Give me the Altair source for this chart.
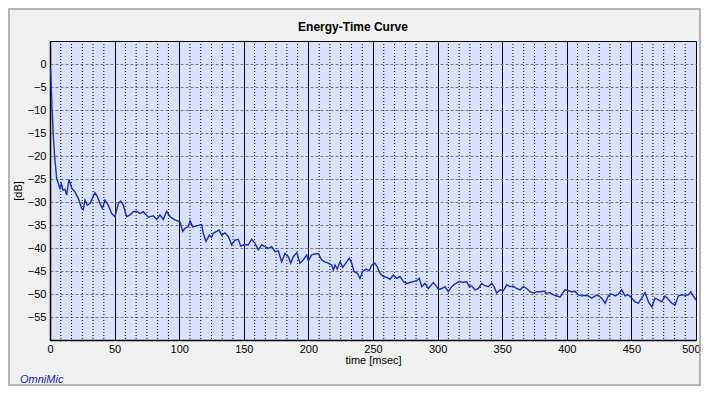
import altair as alt
import pandas as pd

# ---- data ----
time_ms = [0.0, 0.5, 1.5, 2.6, 3.6, 5.2, 7.7, 8.8, 10.0, 11.6, 12.9, 14.7, 16.8, 19.3, 21.9,
           24.5, 25.8, 27.1, 28.9, 31.0, 34.8, 36.6, 38.7, 40.5, 42.6, 45.1, 47.8, 50.3,
           52.9, 54.7, 56.8, 59.3, 61.9, 64.5, 67.1, 69.7, 72.2, 76.1, 80.0, 82.6, 85.1,
           87.7, 90.3,
           92.9, 96.7, 100.6, 102.7, 104.5, 107.0, 108.4, 110.4, 113.5, 117.4, 118.6,
           120.7, 123.3, 125.0, 126.4, 129.0, 130.8, 132.9, 135.4, 138.0, 140.6, 143.2,
           145.7, 147.6, 150.2, 153.5, 156.1, 158.7, 161.2, 163.9, 166.4, 169.0, 171.6,
           174.2, 176.7, 179.3, 181.9, 184.5, 186.3, 188.3, 191.0,
           193.5, 196.0, 198.7, 200.0, 202.5, 205.1, 207.7, 210.3, 212.8, 215.4, 218.0,
           219.3, 220.6, 222.3, 224.5, 226.6, 229.6, 231.7, 233.5, 235.3, 237.9, 239.9,
           242.0, 244.6, 247.2, 249.0, 251.5, 253.3, 255.4, 258.0, 260.6, 263.2, 265.7,
           268.3, 270.9, 273.5, 276.1, 278.6, 281.2, 283.8, 285.8, 287.7, 290.2, 292.8,
           296.7, 299.3, 300.6, 303.2, 305.7, 308.3, 310.9, 313.5, 316.8, 319.9, 322.5,
           324.5, 326.3, 329.0, 331.6, 334.1, 336.7, 339.3, 341.9, 343.7, 345.7, 348.3,
           350.9, 353.5, 356.1, 358.6, 361.2, 363.8, 366.4, 369.0, 371.5, 374.1, 376.7,
           379.3, 381.9, 384.5, 387.1, 389.6, 392.2, 394.8,
           398.6, 401.2, 403.8, 406.4, 408.9, 411.5, 414.1, 416.7, 419.3, 421.9, 424.5,
           427.0, 429.6, 432.2, 434.8, 437.4, 440.0, 442.5, 445.1, 447.7, 450.3, 452.8,
           455.4, 458.0, 460.6, 463.2, 465.8, 468.3, 470.9, 473.5, 476.1, 478.7, 481.2,
           483.8, 486.4, 489.0, 491.6, 494.1, 495.9, 497.8, 500.0]

level_db = [-1.0, -1.2, -9.3, -15.8, -20.1, -24.9, -27.0, -26.0, -27.4, -27.2, -28.5, -25.1,
            -27.0, -27.8, -29.2, -31.4, -31.7, -29.6, -30.7, -30.3, -28.0, -28.8, -30.3,
            -31.4, -29.6, -30.7, -32.5, -33.2, -30.3, -29.8, -30.7, -33.2, -32.8, -32.1,
            -32.0, -32.5, -32.1, -33.3, -33.0, -33.8, -32.8, -33.8, -32.0,
            -33.2, -33.9, -34.3, -36.4, -35.7, -35.4, -34.1, -35.4, -35.2, -34.9, -36.8,
            -38.6, -37.2, -37.7, -36.8, -36.4, -36.1, -37.2, -36.7, -37.5, -39.3, -38.3,
            -38.1, -39.6, -39.3, -39.3, -38.1, -39.0, -40.4, -39.3, -39.7, -40.1, -39.7,
            -40.8, -40.6, -43.0, -41.2, -41.9, -43.3, -41.9, -41.0,
            -43.3, -42.6, -41.5, -42.8, -41.5, -41.3, -41.2, -42.6, -43.0, -43.3, -43.7,
            -44.8, -43.7, -44.6, -43.0, -44.2, -43.0, -42.2, -43.3, -45.1, -45.5, -46.6,
            -45.1, -44.6, -44.9, -43.7, -43.3, -44.1, -45.5, -46.2, -46.4, -46.8, -45.9,
            -46.6, -46.2, -47.3, -47.7, -47.5, -47.3, -47.1, -46.6, -48.4, -47.7, -48.8,
            -47.5, -48.4, -49.0, -48.8, -48.4, -49.5, -48.4, -47.8, -47.3, -47.5, -47.3,
            -48.4, -48.2, -49.1, -48.8, -47.7, -48.2, -48.4, -47.7, -48.4, -49.8, -49.1,
            -49.3, -48.0, -48.4, -48.3, -48.8, -49.1, -48.4, -48.8, -49.5, -49.8, -49.5,
            -49.5, -49.4, -49.8, -49.7, -50.2, -50.4, -50.7,
            -49.1, -49.3, -49.5, -49.4, -50.2, -50.4, -50.3, -50.4, -50.9, -50.4, -50.3,
            -50.9, -52.0, -50.4, -50.0, -50.4, -50.0, -49.1, -50.4, -50.2, -50.9, -51.7,
            -52.0, -50.9, -49.7, -51.7, -52.8, -50.9, -51.3, -51.7, -50.4, -51.2, -52.0,
            -52.4, -50.4, -50.2, -50.3, -50.2, -49.5, -50.4, -51.3]

x_ticks = [0, 50, 100, 150, 200, 250, 300, 350, 400, 450, 500]
y_ticks = [0, -5, -10, -15, -20, -25, -30, -35, -40, -45, -50, -55]
x_domain = [0, 500]
y_domain = [-60, 5]
minor_per_major = 6

title_text = "Energy-Time Curve"
x_title = "time [msec]"
y_title = "[dB]"
brand_text = "OmniMic"

FONT = "Liberation Sans"
W, H = 646, 299
PAD = {"left": 42, "top": 33, "right": 5, "bottom": 46}

curve_df = pd.DataFrame({"t": time_ms, "db": level_db})

# minor (dotted) vertical grid positions between major ticks
minor_x = []
for a, b in zip(x_ticks[:-1], x_ticks[1:]):
    step = (b - a) / minor_per_major
    minor_x += [a + k * step for k in range(1, minor_per_major)]
minor_df = pd.DataFrame({"t": minor_x})

xscale = alt.Scale(domain=x_domain, nice=False, zero=False)
yscale = alt.Scale(domain=y_domain, nice=False, zero=False)

last_x = x_ticks[-1]
x_axis = alt.Axis(values=x_ticks, title=x_title, grid=True,
                  gridColor="black", gridWidth=1, gridOpacity=1,
                  ticks=False, domain=True, domainColor="black",
                  domainWidth=1.5, labelPadding=3, titlePadding=0,
                  labelFlush=False,
                  labelAlign={"condition": {"test": f"datum.value == {last_x}",
                                            "value": "right"},
                              "value": "center"},
                  labelOffset={"condition": {"test": f"datum.value == {last_x}",
                                             "value": 4},
                               "value": 0})
y_axis = alt.Axis(values=y_ticks, title=y_title, grid=True,
                  gridColor="#7a7a7a", gridDash=[3, 2], gridWidth=1,
                  gridOpacity=1, ticks=False, domain=True,
                  domainColor="black", domainWidth=1.5,
                  labelPadding=4, titlePadding=4)

minor = alt.Chart(minor_df).mark_rule(
    color="black", strokeWidth=1, strokeDash=[1, 2]
).encode(x=alt.X("t:Q", scale=xscale, axis=x_axis))

curve = alt.Chart(curve_df).mark_line(
    color="#1530c4", strokeWidth=1.4, interpolate="linear"
).encode(
    x=alt.X("t:Q", scale=xscale, axis=x_axis),
    y=alt.Y("db:Q", scale=yscale, axis=y_axis),
)

brand = alt.Chart(pd.DataFrame({"label": [brand_text]})).mark_text(
    font=FONT, fontSize=11, fontStyle="italic", color="#2020c8",
    align="left", baseline="alphabetic"
).encode(x=alt.value(-30), y=alt.value(342), text="label:N")

frame = alt.Chart(pd.DataFrame({"k": [0]})).mark_rect(
    fill=None, stroke="#a0a0a0", strokeWidth=1.5
).encode(x=alt.value(-41), x2=alt.value(W + PAD["right"] - 1),
         y=alt.value(-32), y2=alt.value(H + PAD["bottom"] - 1))

chart = alt.layer(minor, curve, brand, frame).properties(
    width=W, height=H,
    title=alt.TitleParams(title_text, font=FONT, fontSize=12, fontWeight="bold",
                          color="black", anchor="middle", frame="group",
                          offset=7, dx=-20, dy=33),
    autosize=alt.AutoSizeParams(type="none"),
    padding=PAD,
    background="#f0f0f0",
).configure_view(
    fill="#d9e1ff", stroke="black", strokeWidth=1
).configure_axis(
    labelFont=FONT, labelFontSize=11, labelColor="black",
    titleFont=FONT, titleFontSize=11, titleFontWeight="normal", titleColor="black",
)

chart.save("out.html", embed_options={"renderer": "svg", "actions": False})
